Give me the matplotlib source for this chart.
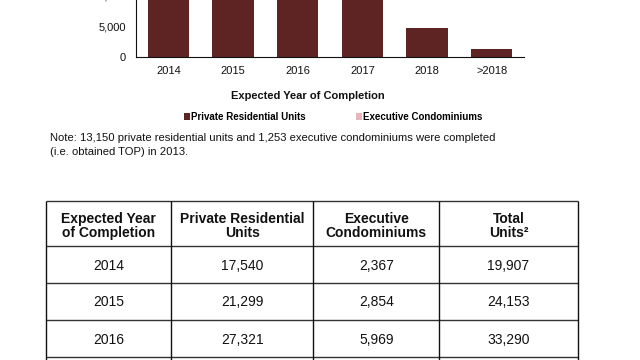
import matplotlib
matplotlib.use("Agg")
import matplotlib.pyplot as plt

plt.rcParams['font.family'] = ['Liberation Sans', 'DejaVu Sans']

# ── data ────────────────────────────────────────────────
years = ['2014', '2015', '2016', '2017', '2018', '>2018']
private_units = [17540, 21299, 27321, 16000, 4772, 1400]   # 2017-later
exec_condos   = [2367, 2854, 5969, 3500, 0, 0]

tbl_header = ['Expected Year\nof Completion', 'Private Residential\nUnits',
              'Executive\nCondominiums', 'Total\nUnits²']
tbl_years   = ['2014', '2015', '2016']
tbl_private = [17540, 21299, 27321]
tbl_ec      = [2367, 2854, 5969]
tbl_total   = [19907, 24153, 33290]

note = ('Note: 13,150 private residential units and 1,253 executive condominiums were completed\n'
        '(i.e. obtained TOP) in 2013.')

DARK = '#5e2323'
PINK = '#e8b6ba'

W, H = 640, 360
fig = plt.figure(figsize=(W/100, H/100), dpi=100)

# ── bar chart (top is cut off by the page crop) ─────────
px_per_5k = 30.7
ymax = 30000
ax = fig.add_axes([136/W, 1 - 57.3/H, 388/W, ymax/5000*px_per_5k/H])
x = range(len(years))
b1 = ax.bar(x, private_units, width=0.64, color=DARK)
b2 = ax.bar(x, exec_condos, width=0.64, bottom=private_units, color=PINK)
ax.set_xlim(-0.5, len(years) - 0.5)
ax.set_ylim(0, ymax)
ax.set_xticks(list(x))
ax.set_xticklabels(years)
ax.set_yticks(range(0, ymax + 1, 5000))
ax.set_yticklabels([f'{v:,}' for v in range(0, ymax + 1, 5000)])
ax.tick_params(axis='both', length=0, labelsize=8, colors='#111111')
ax.tick_params(axis='y', pad=7.2)
ax.tick_params(axis='x', pad=6.5)
for s in ('top', 'right'):
    ax.spines[s].set_visible(False)
for s in ('left', 'bottom'):
    ax.spines[s].set_linewidth(0.8)
    ax.spines[s].set_color('#111111')

fig.text(308/W, 1 - 96/H, 'Expected Year of Completion', ha='center', va='center',
         fontsize=8, fontweight='bold', color='#111111')

fig.legend([b1, b2], ['Private Residential Units', 'Executive Condominiums'],
           loc='center', bbox_to_anchor=(333/W, 1 - 117/H), ncol=2, frameon=False,
           prop={'size': 7, 'weight': 'bold'}, handlelength=0.6, handleheight=0.6,
           handletextpad=0.1, columnspacing=5.2, borderpad=0)

fig.text(50/W, 1 - 145/H, note, ha='left', va='center', fontsize=8.1,
         color='#111111', linespacing=1.5)

# ── table ───────────────────────────────────────────────
tx = fig.add_axes([0, 0, 1, 1])
tx.set_xlim(0, W)
tx.set_ylim(H, 0)
tx.axis('off')

col_edges = [45.7, 171.1, 313.2, 439.3, 577.7]
row_edges = [201, 246, 283, 320, 357]
tx.hlines(row_edges, col_edges[0], col_edges[-1], color='#333333', lw=1.0)
tx.vlines(col_edges, row_edges[0], H + 20, color='#111111', lw=1.0)

col_mid = [(a + b) / 2 for a, b in zip(col_edges[:-1], col_edges[1:])]
for cx, txt in zip(col_mid, tbl_header):
    tx.text(cx, 226, txt, ha='center', va='center', fontsize=10,
            fontweight='bold', linespacing=0.95, color='#111111')

row_mid = [(a + b) / 2 + 1 for a, b in zip(row_edges[1:-1], row_edges[2:])]
for i, ry in enumerate(row_mid):
    cells = [tbl_years[i], f'{tbl_private[i]:,}', f'{tbl_ec[i]:,}', f'{tbl_total[i]:,}']
    for cx, txt in zip(col_mid, cells):
        tx.text(cx, ry, txt, ha='center', va='center', fontsize=10, color='#111111')

fig.savefig('out.png', dpi=100)
